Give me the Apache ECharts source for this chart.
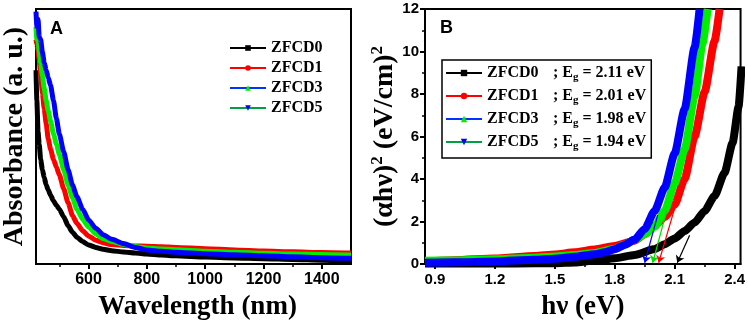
<!DOCTYPE html>
<html>
<head>
<meta charset="utf-8">
<script src="https://cdn.jsdelivr.net/npm/echarts@6/dist/echarts.min.js"></script>
<style>
html,body{margin:0;padding:0;background:#fff;}
#c{width:748px;height:326px;}
</style>
</head>
<body>
<div id="c"></div>
<script>
// ---------- Panel A data (absorbance, arbitrary units 0-100) ----------
const names = ['ZFCD0', 'ZFCD1', 'ZFCD3', 'ZFCD5'];
const wlA = [420, 423, 427, 431, 436, 442, 448, 455, 462, 470, 480, 490, 500, 515, 530, 545, 560, 580, 600, 625, 650, 680, 720, 760, 800, 850, 900, 1000, 1100, 1200, 1300, 1400, 1500];
const absA0 = [76, 64, 52, 47, 41, 37, 34, 31, 29, 27, 24.8, 23, 21.5, 18.5, 15, 12.5, 10.5, 8.8, 7.5, 6.5, 5.8, 5.2, 4.7, 4.3, 3.9, 3.5, 3.2, 2.7, 2.4, 2.1, 1.8, 1.5, 1.3];
const absA1 = [88, 86, 84, 80, 74, 67, 61, 55, 49, 45, 41, 38, 35, 29.5, 24, 19, 16, 13, 11, 9.3, 8.3, 7.6, 7.3, 7.1, 7.0, 6.8, 6.5, 6.0, 5.5, 5.1, 4.8, 4.5, 4.3];
const absA3 = [93, 88, 89, 83, 79, 74, 69, 64, 60, 56, 51, 47, 43, 37, 31, 26, 21.5, 17.5, 14.5, 11.8, 10, 8.8, 7.7, 6.9, 6.3, 5.9, 5.6, 5.0, 4.6, 4.2, 3.9, 3.7, 3.5];
const absA5 = [99, 93, 96, 89, 88, 83, 79, 76, 73, 70, 64, 57, 51, 44, 37, 31, 26.5, 21.5, 17.3, 14, 11.5, 9.7, 8.0, 6.5, 5.5, 5.0, 4.6, 4.0, 3.6, 3.2, 2.8, 2.5, 2.3];
const ticksA = [600, 800, 1000, 1200, 1400];
const minorTicksA = [500, 700, 900, 1100, 1300];

// ---------- Panel B data ((alpha h nu)^2 vs h nu) ----------
const eB0 = [0.85, 1.0, 1.2, 1.4, 1.5, 1.6, 1.7, 1.8, 1.9, 2.0, 2.05, 2.1, 2.15, 2.2, 2.25, 2.3, 2.35, 2.39, 2.42, 2.435];
const vB0 = [0.02, 0.02, 0.02, 0.03, 0.04, 0.07, 0.16, 0.27, 0.42, 0.7, 0.93, 1.2, 1.55, 1.95, 2.5, 3.2, 4.3, 5.7, 7.4, 9.3];
const eB1 = [0.85, 1.0, 1.2, 1.4, 1.5, 1.6, 1.7, 1.8, 1.9, 1.95, 2.0, 2.05, 2.1, 2.15, 2.2, 2.25, 2.3, 2.325];
const vB1 = [0.12, 0.18, 0.26, 0.38, 0.45, 0.55, 0.68, 0.85, 1.1, 1.4, 1.8, 2.2, 2.8, 4.0, 6.0, 8.1, 10.5, 12];
const eB3 = [0.85, 1.0, 1.2, 1.4, 1.5, 1.6, 1.7, 1.8, 1.85, 1.9, 1.95, 2.0, 2.05, 2.1, 2.15, 2.2, 2.24, 2.265];
const vB3 = [0.15, 0.17, 0.22, 0.3, 0.35, 0.42, 0.52, 0.72, 0.9, 1.15, 1.4, 1.75, 2.5, 3.8, 5.4, 7.9, 10.4, 12];
const eB5 = [0.85, 1.0, 1.2, 1.4, 1.5, 1.6, 1.7, 1.75, 1.8, 1.85, 1.9, 1.95, 2.0, 2.05, 2.1, 2.15, 2.2, 2.225];
const vB5 = [0.06, 0.08, 0.12, 0.2, 0.25, 0.34, 0.46, 0.55, 0.7, 0.9, 1.15, 1.65, 2.5, 3.6, 5.2, 7.3, 10.2, 12];
const egB = ['2.11', '2.01', '1.98', '1.94'];
// tangent arrows: start point [x, y] and tip [x, y]
const arrowStart = [[2.175, 1.35], [2.115, 3.1], [2.06, 2.5], [2.015, 2.3]];
const arrowTip = [[2.113, 0.06], [2.02, 0.06], [1.99, 0.06], [1.95, 0.06]];
const ticksB = [0.9, 1.2, 1.5, 1.8, 2.1, 2.4];
const minorTicksB = [1.05, 1.35, 1.65, 1.95, 2.25];

// ---------- styling ----------
const markerColor = ['#000000', '#ff0000', '#00ee00', '#0000ff'];
const legendLineColor = ['#000000', '#ff0000', '#0033ff', '#00a040'];
const arrowColor = ['#000000', '#ff0000', '#00dd00', '#0000ff'];
const symbols = ['rect', 'circle', 'triangle', 'triangle'];
const symRot = [0, 0, 0, 180];
const SERIF = '"Liberation Serif", "Times New Roman", serif';
const SANS = '"Liberation Sans", Arial, sans-serif';

const absA = [absA0, absA1, absA3, absA5];
const eB = [eB0, eB1, eB3, eB5];
const vB = [vB0, vB1, vB3, vB5];

const series = [];
names.forEach((n, i) => {
  series.push({
    name: n, type: 'line', xAxisIndex: 0, yAxisIndex: 0,
    data: wlA.map((x, k) => [x, absA[i][k]]),
    showSymbol: false, symbol: symbols[i], symbolRotate: symRot[i],
    smooth: 0.2, smoothMonotone: 'x',
    itemStyle: { color: markerColor[i] },
    lineStyle: { color: markerColor[i], width: 5 },
    z: 2 + i
  });
});
names.forEach((n, i) => {
  series.push({
    name: n, type: 'line', xAxisIndex: 2, yAxisIndex: 1,
    data: eB[i].map((x, k) => [x, vB[i][k]]),
    showSymbol: false, symbol: symbols[i], symbolRotate: symRot[i],
    smooth: 0.2, smoothMonotone: 'x',
    itemStyle: { color: markerColor[i] },
    lineStyle: { color: markerColor[i], width: 8 },
    z: 2 + i,
    markLine: {
      silent: true, symbol: ['none', 'arrow'], symbolSize: 7,
      label: { show: false },
      lineStyle: { color: arrowColor[i], width: 1.2, type: 'solid' },
      data: [[{ coord: arrowStart[i] }, { coord: arrowTip[i] }]],
      z: 10
    }
  });
});

const legendData = names.map((n, i) => ({
  name: n,
  itemStyle: { color: markerColor[i] },
  lineStyle: { color: legendLineColor[i], width: 2 }
}));

const axisLineStyle = { color: '#000', width: 2 };
const tickLabelA = { fontFamily: SANS, fontWeight: 'bold', fontSize: 16, color: '#000' };
const tickLabelB = { fontFamily: SANS, fontWeight: 'bold', fontSize: 15, color: '#000' };

const option = {
  animation: false,
  backgroundColor: '#fff',
  title: [
    { text: 'A', left: 50, top: 20, padding: 0, textStyle: { fontFamily: SANS, fontWeight: 'bold', fontSize: 18, color: '#000' } },
    { text: 'B', left: 440, top: 19, padding: 0, textStyle: { fontFamily: SANS, fontWeight: 'bold', fontSize: 18, color: '#000' } }
  ],
  grid: [
    { left: 35, top: 9, width: 316, height: 257, show: true, borderColor: '#000', borderWidth: 2, backgroundColor: 'transparent' },
    { left: 425, top: 9, width: 318, height: 256, show: true, borderColor: '#000', borderWidth: 2, backgroundColor: 'transparent' }
  ],
  legend: [
    {
      data: legendData, orient: 'vertical', left: 229, top: 40, padding: 0,
      itemWidth: 36, itemHeight: 7, itemGap: 4, selectedMode: false,
      textStyle: { fontFamily: SERIF, fontWeight: 'bold', fontSize: 16, color: '#000' }
    },
    {
      data: legendData, orient: 'vertical', left: 442, top: 60, padding: [5, 5, 6, 3],
      itemWidth: 36, itemHeight: 8, itemGap: 5, selectedMode: false,
      borderColor: '#000', borderWidth: 1.5, backgroundColor: '#fff',
      formatter: function (name) {
        const i = names.indexOf(name);
        return '{n|' + name + '}{t|; E}{sub|g}{t| = ' + egB[i] + ' eV}';
      },
      textStyle: {
        fontFamily: SERIF, fontWeight: 'bold', fontSize: 16, color: '#000',
        rich: {
          n: { width: 66, fontFamily: SERIF, fontWeight: 'bold', fontSize: 16, color: '#000' },
          t: { fontFamily: SERIF, fontWeight: 'bold', fontSize: 16, color: '#000' },
          sub: { fontFamily: SERIF, fontWeight: 'bold', fontSize: 11, color: '#000', padding: [9, 0, 0, 0] }
        }
      }
    }
  ],
  xAxis: [
    {
      gridIndex: 0, type: 'value', min: 420, max: 1500,
      axisLine: { lineStyle: axisLineStyle },
      axisTick: { customValues: ticksA, length: 5, lineStyle: { color: '#000', width: 2 } },
      axisLabel: Object.assign({ customValues: ticksA, margin: 8, formatter: v => String(v) }, tickLabelA),
      splitLine: { show: false },
      name: 'Wavelength (nm)', nameLocation: 'middle', nameGap: 30,
      nameTextStyle: { fontFamily: SERIF, fontWeight: 'bold', fontSize: 27, color: '#000', padding: [0, 0, 0, 8] }
    },
    {
      gridIndex: 0, type: 'value', min: 420, max: 1500, position: 'bottom',
      axisLine: { show: false },
      axisTick: { customValues: minorTicksA, length: 3, lineStyle: { color: '#000', width: 1.5 } },
      axisLabel: { show: false }, splitLine: { show: false }
    },
    {
      gridIndex: 1, type: 'value', min: 0.85, max: 2.43,
      axisLine: { lineStyle: axisLineStyle },
      axisTick: { customValues: ticksB, length: 5, lineStyle: { color: '#000', width: 2 } },
      axisLabel: Object.assign({ customValues: ticksB, margin: 8, formatter: v => v.toFixed(1) }, tickLabelB),
      splitLine: { show: false },
      name: 'hν (eV)', nameLocation: 'middle', nameGap: 30,
      nameTextStyle: { fontFamily: SERIF, fontWeight: 'bold', fontSize: 27, color: '#000' }
    },
    {
      gridIndex: 1, type: 'value', min: 0.85, max: 2.43, position: 'bottom',
      axisLine: { show: false },
      axisTick: { customValues: minorTicksB, length: 3, lineStyle: { color: '#000', width: 1.5 } },
      axisLabel: { show: false }, splitLine: { show: false }
    }
  ],
  yAxis: [
    {
      gridIndex: 0, type: 'value', min: 0, max: 100,
      axisLine: { show: true, lineStyle: axisLineStyle },
      axisTick: { show: false }, axisLabel: { show: false }, splitLine: { show: false },
      name: 'Absorbance (a. u.)', nameLocation: 'middle', nameGap: 7, nameRotate: 90,
      nameTextStyle: { fontFamily: SERIF, fontWeight: 'bold', fontSize: 28, color: '#000' }
    },
    {
      gridIndex: 1, type: 'value', min: 0, max: 12, interval: 2,
      axisLine: { show: true, lineStyle: axisLineStyle },
      axisTick: { length: 5, lineStyle: { color: '#000', width: 2 } },
      minorTick: { show: true, splitNumber: 2, length: 3, lineStyle: { color: '#000', width: 1.5 } },
      axisLabel: Object.assign({ margin: 6 }, tickLabelB),
      splitLine: { show: false },
      name: '(αhν){sup|2} (eV/cm){sup|2}', nameLocation: 'middle', nameGap: 22, nameRotate: 90,
      nameTextStyle: {
        fontFamily: SERIF, fontWeight: 'bold', fontSize: 28, color: '#000',
        rich: {
          sup: { fontFamily: SERIF, fontWeight: 'bold', fontSize: 17, color: '#000', padding: [0, 0, 14, 0] }
        }
      }
    }
  ],
  series: series
};

const chart = echarts.init(document.getElementById('c'), null, { renderer: 'canvas' });
chart.setOption(option);
</script>
</body>
</html>
